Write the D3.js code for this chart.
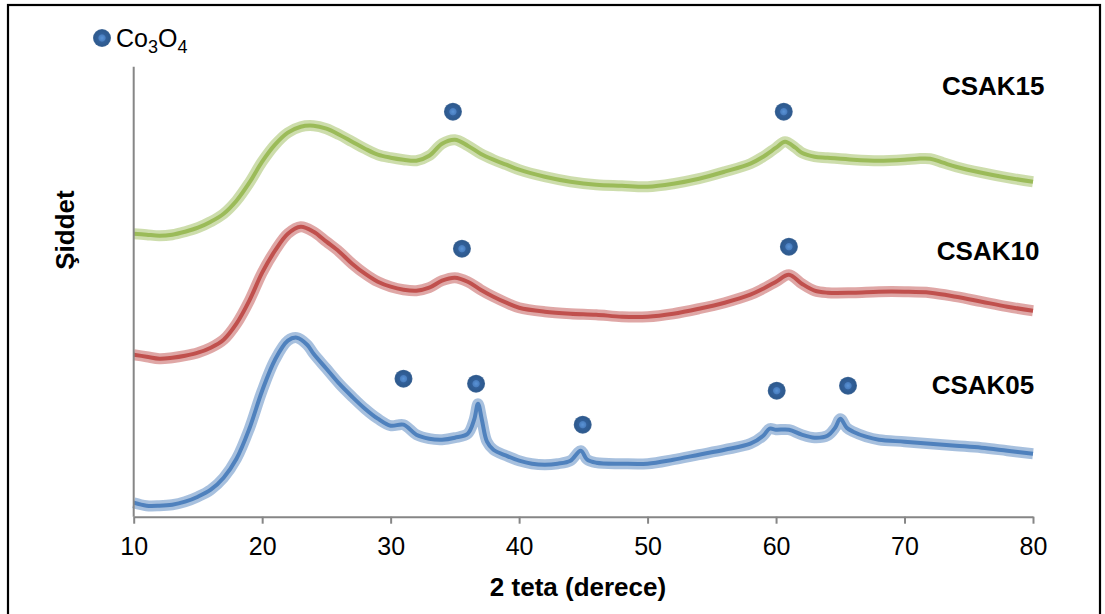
<!DOCTYPE html>
<html>
<head>
<meta charset="utf-8">
<script src="https://cdn.jsdelivr.net/npm/d3@7/dist/d3.min.js"></script>
<style>
  html, body { margin: 0; padding: 0; background: #fff; }
  svg { display: block; }
  text { font-family: "Liberation Sans", Arial, sans-serif; }
</style>
</head>
<body>
<svg id="chart" width="1105" height="614"></svg>
<script>
// X-ray diffraction patterns (2θ in degrees, intensity in arbitrary units, stacked)
const xTicks = [10, 20, 30, 40, 50, 60, 70, 80];

const csak15 = [
  [10,283],[11,282],[12,281],[13,282],[14,285],[15,289],[16,295],[17,303],[18,316],[19,334],
  [20,355],[21,372],[22,384],[23,390],[24,391],[25,388],[26,382],[27,375],[28,368],[29,362],
  [30,359],[31,357],[32,356],[33,361],[34,373],[35,377],[36,371],[37,363],[38,357],[39,352],
  [40,347],[42,340],[44,335],[46,332],[48,331],[50,330],[52,333],[54,338],[56,345],[58,353],
  [59,360],[60,369],[60.7,375],[61.5,369],[62,364],[63,360],[64,359],[66,357],[68,356],[70,357],
  [71,358],[72,358],[73,354],[74,350],[76,344],[78,339],[80,335]
];

const csak10 = [
  [10,162],[11,160],[12,158],[13,159],[14,161],[15,164],[16,169],[17,177],[18,193],[19,216],
  [20,244],[21,266],[22,283],[23,290],[24,285],[25,275],[26,265],[27,253],[28,243],[29,235],
  [30,230],[31,227],[32,226],[33,229],[34,236],[35,239],[36,235],[37,227],[38,220],[39,214],
  [40,209],[42,205],[44,203],[46,202],[48,200],[50,200],[52,203],[54,208],[56,214],[58,222],
  [59,228],[60,235],[61,242],[62,233],[63,226],[64,224],[66,224],[68,225],[70,225],[72,224],
  [74,220],[76,215],[78,210],[80,206]
];

const csak05 = [
  [10,14],[11,11],[12,11],[13,12],[14,15],[15,20],[16,27],[17,39],[18,58],[19,88],
  [20,126],[21,157],[22,176],[22.7,179],[23.5,172],[24,163],[25,148],[26,133],[27,120],[28,108],
  [29,98],[30,91],[31,92],[32,82],[33,78],[34,77],[35,79],[36,83],[36.5,97],[36.8,113],
  [37.1,97],[37.5,75],[38,67],[39,61],[40,56],[41,53],[42,52],[43,53],[44,56],[44.8,66],
  [45.3,57],[46,54],[48,53],[50,53],[52,57],[54,62],[56,67],[58,73],[59,81],[59.5,88],
  [60,87],[61,87],[62,82],[63,79],[64,81],[64.6,89],[65,98],[65.5,89],[66,85],[67,80],
  [68,77],[70,75],[72,73],[74,71],[76,69],[78,66],[80,63]
];

const seriesNames = ["CSAK15", "CSAK10", "CSAK05"];
const seriesColors = ["#9bbb59", "#c0504d", "#4f81bd"];
// label anchor (2θ, intensity) for each pattern name
const labelAnchors = [[80.9, 431], [80.5, 266], [80.1, 132]];

// Co3O4 reflections marked above each pattern (2θ, intensity)
const co3o4Marks = [
  [34.85, 405], [60.6, 405],
  [35.55, 268], [61.0, 270],
  [31.0, 138], [36.65, 133], [44.95, 92], [60.05, 126], [65.6, 131]
];

const svg = d3.select("#chart");
const W = 1105, H = 614;
const margin = { left: 133.7, right: 72, top: 66.7, bottom: 97.3 };

// outer frame
svg.append("rect")
  .attr("x", 8).attr("y", 5)
  .attr("width", 1092).attr("height", 640)
  .attr("fill", "none").attr("stroke", "#000").attr("stroke-width", 2.2);

const x = d3.scaleLinear().domain([10, 80]).range([margin.left, W - margin.right]);
const y = d3.scaleLinear().domain([0, 450]).range([H - margin.bottom, margin.top]);

// patterns: a wide translucent band for the counting-noise spread, then the trace itself
const line = d3.line().x(d => x(d[0])).y(d => y(d[1])).curve(d3.curveCatmullRom.alpha(0.5));
const allSeries = [csak15, csak10, csak05];
allSeries.forEach((s, i) => {
  const g = svg.append("g");
  g.append("path").datum(s)
    .attr("d", line).attr("fill", "none")
    .attr("stroke", seriesColors[i]).attr("stroke-width", 11)
    .attr("stroke-opacity", 0.5).attr("stroke-linejoin", "round");
  g.append("path").datum(s)
    .attr("d", line).attr("fill", "none")
    .attr("stroke", seriesColors[i]).attr("stroke-width", 4)
    .attr("stroke-linejoin", "round");
});

// axes
const xAxis = d3.axisBottom(x).tickValues(xTicks).tickSize(7).tickSizeOuter(0).tickPadding(14);
const gx = svg.append("g").attr("transform", `translate(0,${H - margin.bottom})`).call(xAxis);
gx.select(".domain").attr("stroke", "#868686").attr("stroke-width", 2);
gx.selectAll(".tick line").attr("stroke", "#868686").attr("stroke-width", 2);
gx.selectAll(".tick text").attr("font-size", 25).attr("fill", "#000")
  .attr("font-family", "'Liberation Sans', Arial, sans-serif");

svg.append("line")
  .attr("x1", x(10)).attr("x2", x(10))
  .attr("y1", y(450)).attr("y2", y(0))
  .attr("stroke", "#868686").attr("stroke-width", 2);

// axis titles
svg.append("text")
  .attr("x", 578).attr("y", 596)
  .attr("text-anchor", "middle").attr("font-weight", "bold").attr("font-size", 26)
  .text("2 teta (derece)");

svg.append("text")
  .attr("transform", "translate(74,230) rotate(-90)")
  .attr("text-anchor", "middle").attr("font-weight", "bold").attr("font-size", 26)
  .text("Şiddet");

// pattern names
seriesNames.forEach((name, i) => {
  svg.append("text")
    .attr("x", x(labelAnchors[i][0])).attr("y", y(labelAnchors[i][1]))
    .attr("text-anchor", "end").attr("dominant-baseline", "central")
    .attr("font-weight", "bold").attr("font-size", 26)
    .text(name);
});

// marker symbol
const defs = svg.append("defs");
const grad = defs.append("radialGradient").attr("id", "dotGrad");
grad.append("stop").attr("offset", "0%").attr("stop-color", "#5a93d6");
grad.append("stop").attr("offset", "35%").attr("stop-color", "#4a7fc0");
grad.append("stop").attr("offset", "45%").attr("stop-color", "#32609a");
grad.append("stop").attr("offset", "85%").attr("stop-color", "#2e5a8e");
grad.append("stop").attr("offset", "100%").attr("stop-color", "#4a6f9c");

function drawDot(cx, cy) {
  svg.append("circle").attr("cx", cx).attr("cy", cy).attr("r", 9).attr("fill", "url(#dotGrad)");
}

co3o4Marks.forEach(m => drawDot(x(m[0]), y(m[1])));

// legend
drawDot(102, 38);
const leg = svg.append("text").attr("x", 116).attr("y", 47).attr("font-size", 25).attr("fill", "#000");
leg.append("tspan").text("Co");
leg.append("tspan").attr("font-size", 18).attr("dy", 6).text("3");
leg.append("tspan").attr("dy", -6).text("O");
leg.append("tspan").attr("font-size", 18).attr("dy", 6).text("4");
</script>
</body>
</html>
